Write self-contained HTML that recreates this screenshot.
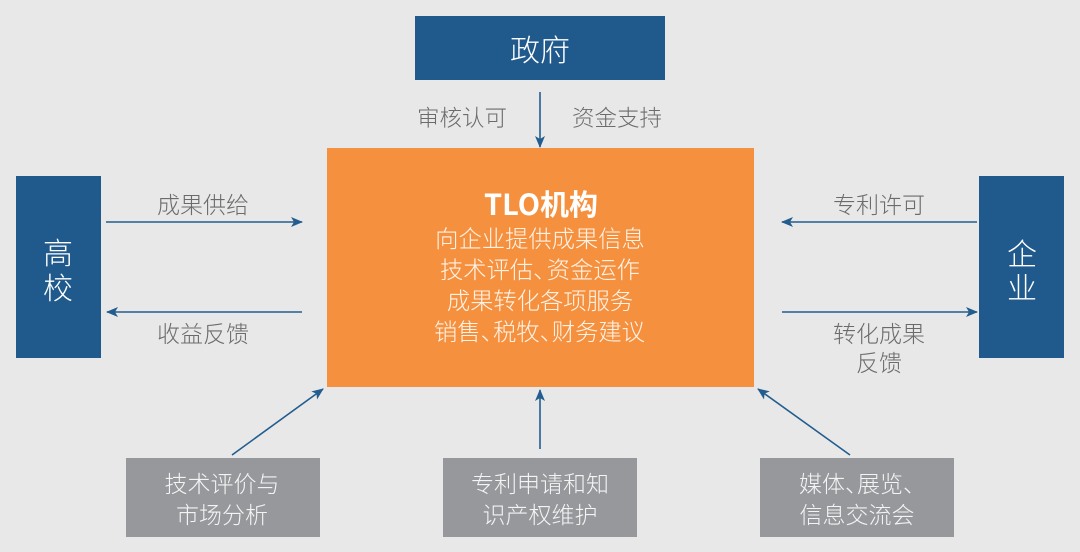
<!DOCTYPE html>
<html>
<head>
<meta charset="utf-8">
<style>
  html,body{margin:0;padding:0;background:#e8e8e8;}
  svg{display:block;}
  text{font-family:"Liberation Sans","Noto Sans CJK SC",sans-serif;}
  .cjk{font-family:"Noto Sans CJK SC","WenQuanYi Zen Hei",sans-serif;font-weight:300;}
  .b{font-weight:bold;}
</style>
</head>
<body>
<svg width="1080" height="552" viewBox="0 0 1080 552" xmlns="http://www.w3.org/2000/svg">
  <defs>
    <marker id="ah" viewBox="0 0 12 10" refX="11" refY="5" markerWidth="12" markerHeight="10" markerUnits="userSpaceOnUse" orient="auto">
      <path d="M0,0 L12,5 L0,10 L3,5 Z" fill="#235d8f"/>
    </marker>
  </defs>
  <rect x="0" y="0" width="1080" height="552" fill="#e8e8e8"/>

  <!-- Government -->
  <rect x="415" y="16" width="250" height="64" fill="#205a8c"/>
  <text class="cjk" x="540" y="48" font-size="30" fill="#ffffff" text-anchor="middle" dominant-baseline="central">政府</text>

  <!-- gov arrow -->
  <line x1="540" y1="92" x2="540" y2="147" stroke="#235d8f" stroke-width="1.6" marker-end="url(#ah)"/>
  <text class="cjk" x="462" y="117" font-size="22.5" fill="#6b6b6b" text-anchor="middle" dominant-baseline="central">审核认可</text>
  <text class="cjk" x="617" y="117" font-size="22.5" fill="#6b6b6b" text-anchor="middle" dominant-baseline="central">资金支持</text>

  <!-- TLO -->
  <rect x="327" y="148" width="427" height="239" fill="#f5913e"/>
  <text class="cjk b" x="541" y="203" font-size="29" fill="#ffffff" text-anchor="middle" dominant-baseline="central">TLO机构</text>
  <text class="cjk" x="540" y="237" font-size="23.3" fill="#fff3e8" text-anchor="middle" dominant-baseline="central">向企业提供成果信息</text>
  <text class="cjk" x="440" y="268" font-size="23.3" fill="#fff3e8" dominant-baseline="central">技术评估、</text>
  <text class="cjk" x="546.8" y="268" font-size="23.3" fill="#fff3e8" dominant-baseline="central">资金运作</text>
  <text class="cjk" x="540" y="299" font-size="23.3" fill="#fff3e8" text-anchor="middle" dominant-baseline="central">成果转化各项服务</text>
  <text class="cjk" x="434" y="330" font-size="23.3" fill="#fff3e8" dominant-baseline="central">销售、</text>
  <text class="cjk" x="493" y="330" font-size="23.3" fill="#fff3e8" dominant-baseline="central">税牧、</text>
  <text class="cjk" x="551.8" y="330" font-size="23.3" fill="#fff3e8" dominant-baseline="central">财务建议</text>

  <!-- University -->
  <rect x="16" y="176" width="85" height="182" fill="#205a8c"/>
  <text class="cjk" x="58" y="251" font-size="30" fill="#ffffff" text-anchor="middle" dominant-baseline="central">高</text>
  <text class="cjk" x="58" y="286" font-size="30" fill="#ffffff" text-anchor="middle" dominant-baseline="central">校</text>

  <line x1="106" y1="222" x2="302" y2="222" stroke="#235d8f" stroke-width="1.6" marker-end="url(#ah)"/>
  <text class="cjk" x="203" y="203" font-size="23" fill="#6b6b6b" text-anchor="middle" dominant-baseline="central">成果供给</text>
  <line x1="302" y1="312" x2="107" y2="312" stroke="#235d8f" stroke-width="1.6" marker-end="url(#ah)"/>
  <text class="cjk" x="203" y="332" font-size="23" fill="#6b6b6b" text-anchor="middle" dominant-baseline="central">收益反馈</text>

  <!-- Enterprise -->
  <rect x="979" y="176" width="85" height="182" fill="#205a8c"/>
  <text class="cjk" x="1022" y="252" font-size="30" fill="#ffffff" text-anchor="middle" dominant-baseline="central">企</text>
  <text class="cjk" x="1022" y="286" font-size="30" fill="#ffffff" text-anchor="middle" dominant-baseline="central">业</text>

  <line x1="977" y1="222" x2="782" y2="222" stroke="#235d8f" stroke-width="1.6" marker-end="url(#ah)"/>
  <text class="cjk" x="879" y="203" font-size="23" fill="#6b6b6b" text-anchor="middle" dominant-baseline="central">专利许可</text>
  <line x1="782" y1="312" x2="977" y2="312" stroke="#235d8f" stroke-width="1.6" marker-end="url(#ah)"/>
  <text class="cjk" x="879" y="332" font-size="23" fill="#6b6b6b" text-anchor="middle" dominant-baseline="central">转化成果</text>
  <text class="cjk" x="879" y="361" font-size="23" fill="#6b6b6b" text-anchor="middle" dominant-baseline="central">反馈</text>

  <!-- bottom arrows -->
  <line x1="232" y1="455" x2="323" y2="389" stroke="#235d8f" stroke-width="1.6" marker-end="url(#ah)"/>
  <line x1="540" y1="449" x2="540" y2="390" stroke="#235d8f" stroke-width="1.6" marker-end="url(#ah)"/>
  <line x1="850" y1="455" x2="758" y2="389" stroke="#235d8f" stroke-width="1.6" marker-end="url(#ah)"/>

  <!-- bottom boxes -->
  <rect x="126" y="458" width="194" height="79" fill="#96989b"/>
  <text class="cjk" x="222" y="482" font-size="23" fill="#f4f4f4" text-anchor="middle" dominant-baseline="central">技术评价与</text>
  <text class="cjk" x="222" y="513" font-size="23" fill="#f4f4f4" text-anchor="middle" dominant-baseline="central">市场分析</text>

  <rect x="443" y="458" width="194" height="79" fill="#96989b"/>
  <text class="cjk" x="540" y="482" font-size="23" fill="#f4f4f4" text-anchor="middle" dominant-baseline="central">专利申请和知</text>
  <text class="cjk" x="540" y="513" font-size="23" fill="#f4f4f4" text-anchor="middle" dominant-baseline="central">识产权维护</text>

  <rect x="760" y="458" width="194" height="79" fill="#96989b"/>
  <text class="cjk" x="799" y="482" font-size="23" fill="#f4f4f4" dominant-baseline="central">媒体、</text>
  <text class="cjk" x="857" y="482" font-size="23" fill="#f4f4f4" dominant-baseline="central">展览、</text>
  <text class="cjk" x="857" y="513" font-size="23" fill="#f4f4f4" text-anchor="middle" dominant-baseline="central">信息交流会</text>
</svg>
</body>
</html>
